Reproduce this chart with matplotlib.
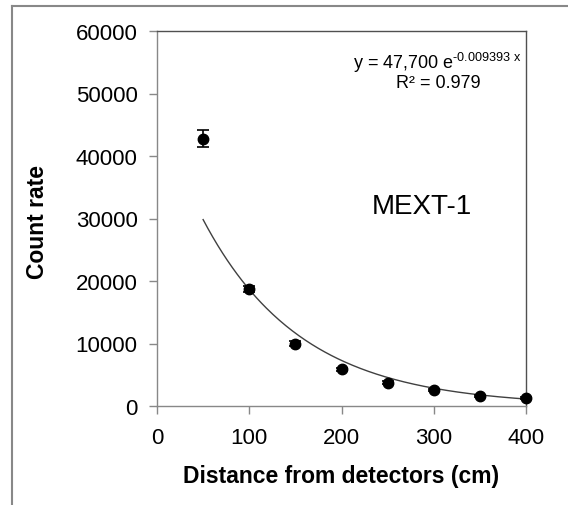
import matplotlib
matplotlib.use("Agg")
import matplotlib.pyplot as plt
import numpy as np
from matplotlib.lines import Line2D

plt.rcParams['font.family'] = ['Liberation Sans', 'DejaVu Sans']
plt.rcParams['mathtext.fontset'] = 'custom'
plt.rcParams['mathtext.rm'] = 'Liberation Sans'
plt.rcParams['mathtext.it'] = 'Liberation Sans'
plt.rcParams['mathtext.bf'] = 'Liberation Sans:bold'

# Data
distance = [50, 100, 150, 200, 250, 300, 350, 400]
count_rate = [42800, 18750, 9950, 5850, 3700, 2550, 1550, 1250]
count_err = [1400, 500, 400, 300, 250, 200, 150, 150]
fit_a = 47700
fit_b = -0.009393
x_ticks = [0, 100, 200, 300, 400]
y_ticks = [0, 10000, 20000, 30000, 40000, 50000, 60000]

W, H = 568, 506
fig = plt.figure(figsize=(W / 100, H / 100), dpi=100)
ax = fig.add_axes([157 / W, (H - 407) / H, 369 / W, 375 / H])

xf = np.linspace(distance[0], distance[-1], 200)
ax.plot(xf, fit_a * np.exp(fit_b * xf), color='#404040', lw=1.0, zorder=2)
ax.errorbar(distance, count_rate, yerr=count_err, fmt='o', color='black',
            ms=7.5, capsize=4, elinewidth=1.2, capthick=1.2, zorder=3,
            clip_on=False)

ax.set_xlim(0, 400)
ax.set_ylim(0, 60000)
ax.set_xticks(x_ticks)
ax.set_yticks(y_ticks)
ax.set_xticklabels([str(v) for v in x_ticks])
ax.set_yticklabels([str(v) for v in y_ticks])
ax.tick_params(axis='both', direction='out', length=6, width=1, color='#888888',
               labelsize=16, labelcolor='black')
ax.tick_params(axis='x', pad=9)
ax.tick_params(axis='y', pad=8)
for s in ['left', 'bottom']:
    ax.spines[s].set_color('#888888')
    ax.spines[s].set_linewidth(1.0)
for s in ['top', 'right']:
    ax.spines[s].set_color('#505050')
    ax.spines[s].set_linewidth(1.0)

fig.text(341.5 / W, 1 - 477 / H, 'Distance from detectors (cm)', ha='center',
         va='center', fontsize=16.5, fontweight='bold')
fig.text(37 / W, 1 - 222 / H, 'Count rate', ha='center', va='center',
         rotation=90, fontsize=16.5, fontweight='bold')

ax.text((422 - 157) / 369, (407 - 207) / 375, 'MEXT-1', transform=ax.transAxes,
        ha='center', va='center', fontsize=20)
ax.text((437 - 157) / 369, (407 - 63) / 375,
        'y = 47,700 e$^{\\mathrm{\u2010}0.009393\\ x}$', transform=ax.transAxes,
        ha='center', va='center', fontsize=13)
ax.text((438 - 157) / 369, (407 - 84) / 375, 'R² = 0.979',
        transform=ax.transAxes, ha='center', va='center', fontsize=13)

# figure border
fig.add_artist(Line2D([12 / W, 12 / W], [0, 1 - 7 / H], transform=fig.transFigure,
                      color='#888888', lw=1.5))
fig.add_artist(Line2D([12 / W, 1], [1 - 7 / H, 1 - 7 / H], transform=fig.transFigure,
                      color='#888888', lw=1.5))

fig.savefig('out.png', dpi=100)
